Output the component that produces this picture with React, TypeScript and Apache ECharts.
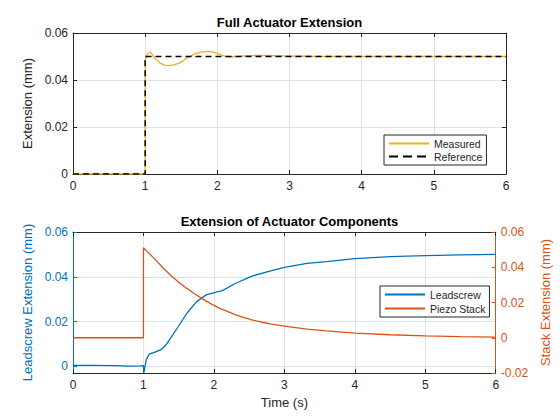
import React, { useEffect, useRef } from 'react';
import * as echarts from 'echarts';

// ---- Data ----
const xTickValues = [0, 1, 2, 3, 4, 5, 6];
const leftBottomTicks = [0, 0.02, 0.04, 0.06];

const measuredT = [0, 1, 1, 1.02, 1.04, 1.06, 1.09, 1.13, 1.2, 1.27, 1.34, 1.41, 1.48, 1.55, 1.62, 1.69, 1.755, 1.85, 1.92, 1.99, 2.06, 2.12, 2.2, 2.31, 2.42, 2.54, 2.66, 2.77, 3.0, 3.3, 3.7, 6];
const measuredY = [0, 0, 0.0482, 0.0505, 0.0515, 0.0518, 0.0512, 0.0494, 0.0473, 0.0463, 0.0461, 0.0465, 0.0473, 0.0487, 0.05, 0.0511, 0.0518, 0.0522, 0.0521, 0.0514, 0.0506, 0.05, 0.0499, 0.0501, 0.0504, 0.0505, 0.0505, 0.0504, 0.0502, 0.0501, 0.05, 0.05];

const referenceT = [0, 1, 1, 6];
const referenceY = [0, 0, 0.05, 0.05];

const leadscrewT = [0, 0.3, 0.6, 0.8, 0.95, 1.0, 1.005, 1.02, 1.04, 1.085, 1.155, 1.25, 1.32, 1.385, 1.48, 1.616, 1.755, 1.89, 2.03, 2.12, 2.31, 2.54, 2.82, 3.0, 3.32, 3.6, 4.0, 4.5, 5.0, 5.5, 6.0];
const leadscrewY = [0.0004, 0.0004, 0.0003, 0.0001, 0.0002, 0.0003, -0.003, -0.0005, 0.003, 0.0056, 0.0062, 0.0074, 0.0096, 0.0126, 0.0171, 0.0237, 0.0289, 0.0319, 0.0331, 0.0338, 0.0371, 0.0403, 0.0427, 0.0442, 0.046, 0.0468, 0.0481, 0.049, 0.0494, 0.0498, 0.05];

const stackT = [0, 1, 1, 1.05, 1.155, 1.27, 1.385, 1.5, 1.616, 1.73, 1.85, 1.96, 2.08, 2.2, 2.31, 2.42, 2.54, 2.68, 2.82, 3.0, 3.32, 3.6, 4.0, 4.5, 5.0, 5.5, 6.0];
const stackY = [0, 0, 0.0511, 0.049, 0.0449, 0.04, 0.0355, 0.0315, 0.028, 0.0248, 0.0218, 0.0192, 0.0167, 0.0148, 0.013, 0.0115, 0.0101, 0.0088, 0.0077, 0.0066, 0.0049, 0.0039, 0.0026, 0.0017, 0.0011, 0.0006, 0.0003];

const zip = (t: number[], y: number[]) => t.map((v, i) => [v, y[i]]);

const FONT = 'Liberation Sans, Arial, Helvetica, sans-serif';
const AX = '#262626';
const GRID_GRAY = '#e1e1e1';
const GRID_BLUE = '#d3e5f3';
const BLUE = '#0072BD';
const ORANGE = '#D95319';
const YELLOW = '#EDB120';
const TICK_FS = 12;
const NAME_FS = 13;
const TITLE_FS = 13;
const LEGEND_FS = 10.5;

const fmt = (v: number) => (Math.abs(v) < 1e-9 ? '0' : v.toFixed(2));

function xAxes(grid: number, withName: boolean) {
  const common = {
    gridIndex: grid,
    type: 'value' as const,
    min: xTickValues[0],
    max: xTickValues[xTickValues.length - 1],
    interval: 1,
    axisLine: { show: true, onZero: false, lineStyle: { color: AX, width: 1 } },
    axisTick: { show: true, inside: true, length: 4, lineStyle: { color: AX } },
  };
  return [
    {
      ...common,
      position: 'bottom',
      axisLabel: { color: AX, fontSize: TICK_FS, margin: 6, fontFamily: FONT },
      splitLine: { show: true, lineStyle: { color: GRID_GRAY, width: 1 } },
      ...(withName
        ? {
            name: 'Time (s)',
            nameLocation: 'middle',
            nameGap: 23,
            nameTextStyle: { color: AX, fontSize: NAME_FS, fontFamily: FONT },
          }
        : {}),
    },
    {
      ...common,
      position: 'top',
      axisLabel: { show: false },
      splitLine: { show: false },
    },
  ];
}

const legendCommon = {
  orient: 'vertical',
  itemWidth: 40,
  itemHeight: 12,
  padding: [3, 4, 3, 4],
  borderColor: AX,
  borderWidth: 1,
  borderRadius: 0,
  backgroundColor: '#fff',
  selectedMode: false,
  itemStyle: { opacity: 0 },
  textStyle: { color: AX, fontSize: LEGEND_FS, fontFamily: FONT },
};

const option = {
  animation: false,
  backgroundColor: '#fff',
  textStyle: { fontFamily: FONT },
  grid: [
    { left: 73, top: 33, width: 433, height: 141 },
    { left: 73, top: 232, width: 433, height: 141 },
  ],
  graphic: [
    {
      type: 'text',
      x: 289.5,
      y: 22.5,
      style: {
        text: 'Full Actuator Extension',
        align: 'center',
        verticalAlign: 'middle',
        fontSize: TITLE_FS,
        fontWeight: 'bold',
        fontFamily: FONT,
        fill: '#000',
      },
    },
    {
      type: 'text',
      x: 289.5,
      y: 221.5,
      style: {
        text: 'Extension of Actuator Components',
        align: 'center',
        verticalAlign: 'middle',
        fontSize: TITLE_FS,
        fontWeight: 'bold',
        fontFamily: FONT,
        fill: '#000',
      },
    },
  ],
  legend: [
    {
      ...legendCommon,
      data: ['Measured', { name: 'Reference', lineStyle: { type: [9, 5] } }],
      left: 384,
      top: 135,
      itemGap: 2,
    },
    { ...legendCommon, data: ['Leadscrew', 'Piezo Stack'], left: 380, top: 286, itemGap: 3 },
  ],
  xAxis: [...xAxes(0, false), ...xAxes(1, true)],
  yAxis: [
    {
      gridIndex: 0,
      type: 'value',
      position: 'left',
      min: 0,
      max: 0.06,
      interval: 0.02,
      name: 'Extension (mm)',
      nameLocation: 'middle',
      nameGap: 31,
      nameTextStyle: { color: AX, fontSize: NAME_FS, fontFamily: FONT },
      axisLine: { show: true, onZero: false, lineStyle: { color: AX, width: 1 } },
      axisTick: { show: true, inside: true, length: 4, lineStyle: { color: AX } },
      axisLabel: { color: AX, fontSize: TICK_FS, margin: 5, formatter: fmt, fontFamily: FONT },
      splitLine: { show: true, lineStyle: { color: GRID_GRAY, width: 1 } },
    },
    {
      gridIndex: 0,
      type: 'value',
      position: 'right',
      min: 0,
      max: 0.06,
      interval: 0.02,
      axisLine: { show: true, onZero: false, lineStyle: { color: AX, width: 1 } },
      axisTick: { show: true, inside: true, length: 4, lineStyle: { color: AX } },
      axisLabel: { show: false },
      splitLine: { show: false },
    },
    {
      gridIndex: 1,
      type: 'value',
      position: 'left',
      min: -0.003,
      max: 0.06,
      name: 'Leadscrew Extension (mm)',
      nameLocation: 'middle',
      nameGap: 31,
      nameTextStyle: { color: BLUE, fontSize: NAME_FS, fontFamily: FONT },
      axisLine: { show: true, onZero: false, lineStyle: { color: BLUE, width: 1 } },
      axisTick: { show: true, inside: true, length: 4, customValues: leftBottomTicks, lineStyle: { color: BLUE } },
      axisLabel: { color: BLUE, fontSize: TICK_FS, margin: 5, customValues: leftBottomTicks, formatter: fmt, fontFamily: FONT },
      splitLine: { show: true, lineStyle: { color: GRID_BLUE, width: 1 } },
    },
    {
      gridIndex: 1,
      type: 'value',
      position: 'right',
      min: -0.02,
      max: 0.06,
      interval: 0.02,
      name: 'Stack Extension (mm)',
      nameLocation: 'middle',
      nameGap: 38,
      nameTextStyle: { color: ORANGE, fontSize: NAME_FS, fontFamily: FONT },
      axisLine: { show: true, onZero: false, lineStyle: { color: ORANGE, width: 1 } },
      axisTick: { show: true, inside: true, length: 4, lineStyle: { color: ORANGE } },
      axisLabel: { color: ORANGE, fontSize: TICK_FS, margin: 5, formatter: fmt, fontFamily: FONT },
      splitLine: { show: false },
    },
  ],
  series: [
    {
      name: 'Measured',
      type: 'line',
      xAxisIndex: 0,
      yAxisIndex: 0,
      symbol: 'none',
      data: zip(measuredT, measuredY),
      lineStyle: { color: YELLOW, width: 1.3 },
      itemStyle: { color: YELLOW },
    },
    {
      name: 'Reference',
      type: 'line',
      xAxisIndex: 0,
      yAxisIndex: 0,
      symbol: 'none',
      data: zip(referenceT, referenceY),
      lineStyle: { color: '#000', width: 1.5, type: [6, 4] },
      itemStyle: { color: '#000' },
    },
    {
      name: 'Leadscrew',
      type: 'line',
      xAxisIndex: 2,
      yAxisIndex: 2,
      symbol: 'none',
      data: zip(leadscrewT, leadscrewY),
      lineStyle: { color: BLUE, width: 1.3 },
      itemStyle: { color: BLUE },
    },
    {
      name: 'Piezo Stack',
      type: 'line',
      xAxisIndex: 2,
      yAxisIndex: 3,
      symbol: 'none',
      data: zip(stackT, stackY),
      lineStyle: { color: ORANGE, width: 1.3 },
      itemStyle: { color: ORANGE },
    },
  ],
};

export default function App() {
  const ref = useRef<HTMLDivElement>(null);
  useEffect(() => {
    document.body.style.margin = '0';
    const chart = echarts.init(ref.current as HTMLDivElement, null, { renderer: 'svg' });
    chart.setOption(option as any);
    return () => chart.dispose();
  }, []);
  return <div ref={ref} style={{ width: 560, height: 420 }} />;
}
